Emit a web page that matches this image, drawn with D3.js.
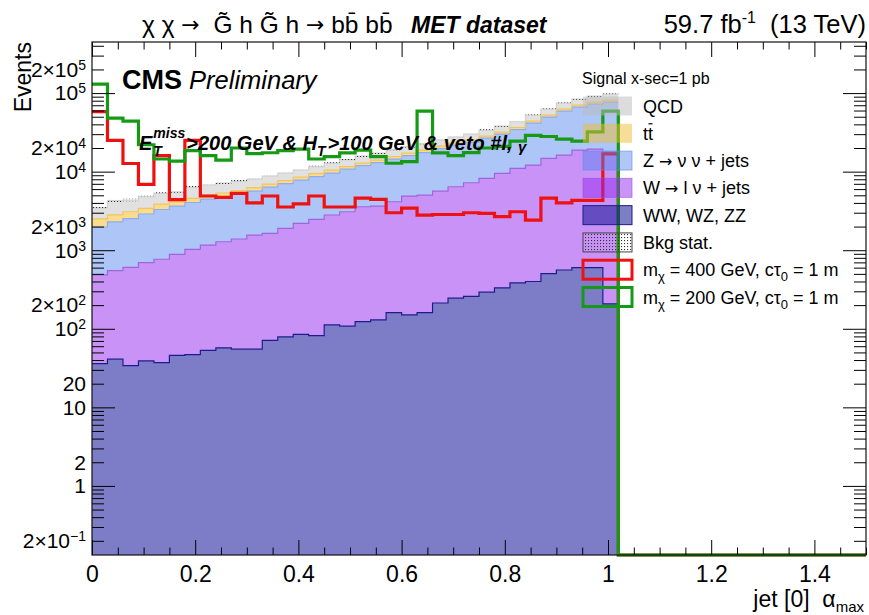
<!DOCTYPE html>
<html><head><meta charset="utf-8">
<script src="https://cdn.jsdelivr.net/npm/d3@7"></script>
<style>
body{margin:0;background:#fff;}
text{font-family:"Liberation Sans",Arial,Helvetica,sans-serif;fill:#000;white-space:pre;}
.arr{font-family:"DejaVu Sans",sans-serif;}
</style></head><body>
<svg id="c" width="869" height="615"></svg>
<script>
// ---------------- data ----------------
const binLow = [0,0.03,0.06,0.09,0.12,0.15,0.18,0.21,0.24,0.27,0.3,0.33,0.36,0.39,0.42,0.45,0.48,0.51,0.54,0.57,
  0.6,0.63,0.66,0.69,0.72,0.75,0.78,0.81,0.84,0.87,0.9,0.93,0.96,0.99,1.02,1.05,1.08,1.11,1.14,1.17,
  1.2,1.23,1.26,1.29,1.32,1.35,1.38,1.41,1.44,1.47];
const xMax = 1.5;
const diboson = [36,41,34,39,37,46,47,53,57,55,55,71,79,85,82,112,108,123,130,161,150,161,213,245,258,292,331,383,400,504,560,600,600,207];
const wjets = [450,510,570,655,730,840,980,1110,1225,1335,1505,1570,1820,2115,2390,2695,2980,3450,3520,3980,4745,4875,5450,6180,6965,7930,9180,10640,11730,14255,15690,18240,18800,17530];
const zjets = [1490,1740,1925,2195,2530,2760,3020,3315,3540,3800,4105,4730,5160,5615,6190,6795,7700,8385,9410,10320,11135,12465,14015,15365,16595,18520,20560,23340,29370,34790,42770,47530,53040,59000];
const ttbar = [525,520,560,520,575,490,525,555,525,560,615,585,650,720,800,870,820,900,1000,1100,1220,1340,1500,1340,1410,1640,1850,2030,2550,2930,3500,3930,4300,4730];
const qcd = [980,1460,1265,1390,1430,1410,1800,1725,1820,1840,1770,1835,1890,1935,2150,2390,2640,2920,3190,3540,3600,3910,4050,4410,4840,5440,6090,6760,8430,10040,12120,13650,14920,15610];
const bkgStatRel = [0.04,0.035,0.035,0.03,0.03,0.03,0.03,0.03,0.03,0.03,0.028,0.028,0.027,0.027,0.026,0.025,0.025,0.024,0.024,0.023,0.023,0.022,0.022,0.022,0.021,0.021,0.02,0.02,0.02,0.02,0.02,0.02,0.02,0.02];
const sig400 = [58000,25000,12700,6900,16000,4400,25000,4900,4700,5300,4000,4900,3550,3900,4900,3550,3550,4600,4450,3000,
  3440,2800,2850,2850,3000,2950,2670,3090,2420,4600,4000,4300,4300,16800,0,0,0,0,0,0,0,0,0,0,0,0,0,0,0,0];
const sig200 = [130000,48000,44000,22000,14500,13600,18500,16000,14000,20000,17000,17400,18500,19400,14500,15500,17300,18800,15500,12800,
  13400,59000,17300,16000,17500,20000,21000,24500,29000,28000,26000,24500,32000,59000,0,0,0,0,0,0,0,0,0,0,0,0,0,0,0,0];
const xTickValues = [0,0.2,0.4,0.6,0.8,1,1.2,1.4];
const xTickLabels = ["0","0.2","0.4","0.6","0.8","1","1.2","1.4"];
const yTickValues = [0.2,1,2,10,20,100,200,1000,2000,10000,20000,100000,200000];
const yTickLabels = ["2×10^{−1}","1","2","10","20","10^{2}","2×10^{2}","10^{3}","2×10^{3}","10^{4}","2×10^{4}","10^{5}","2×10^{5}"];
const yDomain = [0.132, 4.47e5];

// ---------------- setup ----------------
const L = 92, R = 866, T = 42, B = 555;
const svg = d3.select("#c");
const x = d3.scaleLinear([0, xMax], [L, R]);
const y = d3.scaleLog(yDomain, [B, T]).clamp(true);
const yv = v => y(Math.max(v, yDomain[0]));

const defs = svg.append("defs");
defs.append("clipPath").attr("id","clip").append("rect")
  .attr("x", L).attr("y", T).attr("width", R-L).attr("height", B-T+3);
const pat = defs.append("pattern").attr("id","dots").attr("patternUnits","userSpaceOnUse")
  .attr("width",3).attr("height",3);
pat.append("rect").attr("x",0).attr("y",0).attr("width",1.1).attr("height",1.1).attr("fill","#333");

const plot = svg.append("g").attr("clip-path","url(#clip)");

// stacked background
const keys = ["diboson","wjets","zjets","ttbar","qcd"];
const procArrays = {diboson, wjets, zjets, ttbar, qcd};
const table = diboson.map((_, i) => {
  const r = {x0: binLow[i], x1: binLow[i+1]};
  keys.forEach(k => r[k] = procArrays[k][i]);
  return r;
});
const stack = d3.stack().keys(keys)(table);
const style = {
  diboson: {fill:"#7d7dc7", line:"#1c1c8c"},
  wjets:   {fill:"#c892f6", line:"#9d66de"},
  zjets:   {fill:"#adc6f7", line:"#8eacee"},
  ttbar:   {fill:"#f9dc8e", line:"#f2c55c"},
  qcd:     {fill:"#e1e1e1", line:"#d2d2d2"}
};
const stepPts = layer => layer.flatMap(d => [
  {x: d.data.x0, y0: d[0], y1: d[1]},
  {x: d.data.x1, y0: d[0], y1: d[1]}
]);
const area = d3.area().x(d => x(d.x)).y0(d => yv(d.y0)).y1(d => yv(d.y1));
const topLine = d3.line().x(d => x(d.x)).y(d => yv(d.y1));
stack.slice().reverse().forEach(layer => {
  plot.append("path").attr("d", area(stepPts(layer))).attr("fill", style[layer.key].fill);
});
stack.forEach(layer => {
  plot.append("path").attr("d", topLine(stepPts(layer))).attr("fill","none")
    .attr("stroke", style[layer.key].line).attr("stroke-width", 1.2);
});
// bkg stat band
const tot = stack[stack.length-1];
const statPts = tot.flatMap((d,i) => [
  {x: d.data.x0, y0: d[1]*(1-bkgStatRel[i]), y1: d[1]*(1+bkgStatRel[i])},
  {x: d.data.x1, y0: d[1]*(1-bkgStatRel[i]), y1: d[1]*(1+bkgStatRel[i])}
]);
plot.append("path").attr("d", area(statPts)).attr("fill","url(#dots)");

// signals
const sigLine = d3.line().x(d => x(d[0])).y(d => yv(d[1])).curve(d3.curveStepAfter);
function sigPts(arr){ const p = arr.map((v,i)=>[binLow[i], v]); p.push([xMax, arr[arr.length-1]]); return p; }
plot.append("path").attr("d", sigLine(sigPts(sig400))).attr("fill","none")
  .attr("stroke","#ee1111").attr("stroke-width",3.2);
plot.append("path").attr("d", sigLine(sigPts(sig200))).attr("fill","none")
  .attr("stroke","#169a16").attr("stroke-width",3.2);

// ---------------- axes ----------------
const xMinor = d3.range(0, 1.5001, 0.05).map(v => +v.toFixed(2)).filter(v => !xTickValues.includes(v));
const yAll = y.ticks();
const yMajor = yAll.filter(v => Math.abs(Math.log10(v) - Math.round(Math.log10(v))) < 1e-9);
const yMinor = yAll.filter(v => !yMajor.includes(v));
function axis(gen, tx, ty){
  const g = svg.append("g").attr("transform",`translate(${tx},${ty})`).call(gen);
  g.select(".domain").remove();
  g.selectAll(".tick line").attr("stroke","#000").attr("stroke-width",1);
  return g;
}
const xb = axis(d3.axisBottom(x).tickValues(xTickValues).tickSizeInner(-15).tickSizeOuter(0).tickPadding(11)
  .tickFormat((d,i) => xTickLabels[i]), 0, B);
xb.selectAll("text").style("font-size","23px").style("font-family","Liberation Sans");
axis(d3.axisBottom(x).tickValues(xMinor).tickSizeInner(-7.5).tickSizeOuter(0).tickFormat(""), 0, B);
axis(d3.axisTop(x).tickValues(xTickValues).tickSizeInner(-15).tickSizeOuter(0).tickFormat(""), 0, T);
axis(d3.axisTop(x).tickValues(xMinor).tickSizeInner(-7.5).tickSizeOuter(0).tickFormat(""), 0, T);
axis(d3.axisLeft(y).tickValues(yMajor).tickSizeInner(-23).tickSizeOuter(0).tickFormat(""), L, 0);
axis(d3.axisLeft(y).tickValues(yMinor).tickSizeInner(-12).tickSizeOuter(0).tickFormat(""), L, 0);
axis(d3.axisRight(y).tickValues(yMajor).tickSizeInner(-23).tickSizeOuter(0).tickFormat(""), R, 0);
axis(d3.axisRight(y).tickValues(yMinor).tickSizeInner(-12).tickSizeOuter(0).tickFormat(""), R, 0);

// y tick labels with superscripts
yTickValues.forEach((v,i) => {
  const lab = yTickLabels[i];
  const m = lab.match(/^(.*?)\^\{(.*)\}$/);
  const t = svg.append("text").attr("x", 86).attr("y", y(v)).attr("dy","0.35em")
    .attr("text-anchor","end").style("font-size","21px");
  if (m) {
    t.append("tspan").text(m[1]);
    t.append("tspan").attr("dy","-0.5em").style("font-size","14px").text(m[2]);
  } else t.text(lab);
});

// frame
svg.append("rect").attr("x",L).attr("y",T).attr("width",R-L).attr("height",B-T)
  .attr("fill","none").attr("stroke","#111").attr("stroke-width",1.2);

// ---------------- rich text helper ----------------
function rich(x0, y0, parts, opts={}){
  const t = svg.append("text").attr("x",x0).attr("y",y0);
  if (opts.weight) t.style("font-weight",opts.weight);
  if (opts.italic) t.style("font-style","italic");
  let cx = x0;
  parts.forEach(p => {
    const px = cx + (p.dx||0);
    const ts = t.append("tspan").attr("x", px).attr("y", y0 + (p.dy||0))
      .style("font-size", p.size + "px").text(p.t);
    if (p.italic) ts.style("font-style","italic");
    if (p.weight) ts.style("font-weight",p.weight);
    if (p.cls) ts.attr("class", p.cls);
    const w = ts.node().getComputedTextLength();
    if (!p.stay) cx = px + w;
  });
  return {t, end: cx};
}

// titles
rich(142, 33, [
  {t:"χ χ ", size:24.5},{t:"→", size:22, cls:"arr", dy:-1},
  {t:"  G̃ h G̃ h ", size:24.5},{t:"→", size:22, cls:"arr", dy:-1},
  {t:" bb̄ bb̄", size:24.5}
]);
rich(411, 33, [{t:"MET dataset", size:23}], {weight:"bold", italic:true});
(function(){
  const parts = [{t:"59.7 fb", size:25.5},{t:"-1", size:16, dy:-10},{t:"  (13 TeV)", size:25.5}];
  const r = rich(0, 33, parts);
  r.t.attr("transform", `translate(${866 - r.end},0)`);
})();

rich(122, 89, [{t:"CMS", size:27, weight:"bold"},{t:" Preliminary", size:25.5, italic:true}]);

// selection text
rich(139, 150, [
  {t:"E", size:20},
  {t:"T", size:14, dy:6, dx:1, stay:true},
  {t:"miss", size:14, dy:-12, dx:1},
  {t:">200 GeV & H", size:20, dx:1},
  {t:"T", size:14, dy:6},
  {t:">100 GeV & veto #l, ", size:20, dx:2},
  {t:"γ", size:15, dy:2}
], {weight:"bold", italic:true});

// axis titles
svg.append("text").attr("transform","translate(31,42) rotate(-90)").attr("text-anchor","end")
  .style("font-size","23px").text("Events");
(function(){
  const r = rich(0, 607, [{t:"jet [0]  α", size:23},{t:"max", size:15, dy:5}]);
  r.t.attr("transform", `translate(${864 - r.end},0)`);
})();

// ---------------- legend ----------------
rich(582, 84, [{t:"Signal x-sec=1 pb", size:16}]);
const legendItems = [
  {kind:"fill", fill:"rgba(185,185,185,0.5)", stroke:"none", label:[{t:"QCD", size:18}]},
  {kind:"fill", fill:"rgba(240,190,50,0.5)", stroke:"none", label:[{t:"tt", size:18}], bar:true},
  {kind:"fill", fill:"rgba(80,130,240,0.45)", stroke:"rgba(100,140,230,0.6)", label:[{t:"Z ", size:18},{t:"→", size:16, cls:"arr"},{t:" ν ν + jets", size:18}]},
  {kind:"fill", fill:"rgba(150,40,240,0.5)", stroke:"rgba(150,80,230,0.6)", label:[{t:"W ", size:18},{t:"→", size:16, cls:"arr"},{t:" l ν + jets", size:18}]},
  {kind:"fill", fill:"rgba(20,20,150,0.55)", stroke:"#1c1c8c", label:[{t:"WW, WZ, ZZ", size:18}]},
  {kind:"stat", fill:"url(#dots)", stroke:"#444", label:[{t:"Bkg stat.", size:18}]},
  {kind:"line", fill:"none", stroke:"#ee1111", label:[{t:"m", size:18},{t:"χ", size:13, dy:5},{t:" = 400 GeV, cτ", size:18},{t:"0", size:13, dy:5},{t:" = 1 m", size:18}]},
  {kind:"line", fill:"none", stroke:"#169a16", label:[{t:"m", size:18},{t:"χ", size:13, dy:5},{t:" = 200 GeV, cτ", size:18},{t:"0", size:13, dy:5},{t:" = 1 m", size:18}]}
];
const legY = d3.scaleLinear([0, 7], [106, 297]);
legendItems.forEach((it, i) => {
  const cy = legY(i);
  svg.append("rect").attr("x",583).attr("y",cy-9.5).attr("width",49).attr("height",19)
    .attr("fill", it.fill).attr("stroke", it.stroke)
    .attr("stroke-width", it.kind==="line" ? 3 : 1);
  const r = rich(643, cy+6.5, it.label);
  if (it.bar) {
    const full = r.t.select("tspan").node().getComputedTextLength();
    const one = full/2;
    svg.append("line").attr("x1", 643+one+0.5).attr("x2", 643+full-0.5)
      .attr("y1", cy-9.5).attr("y2", cy-9.5).attr("stroke","#000").attr("stroke-width",1.2);
  }
});
</script>
</body></html>
